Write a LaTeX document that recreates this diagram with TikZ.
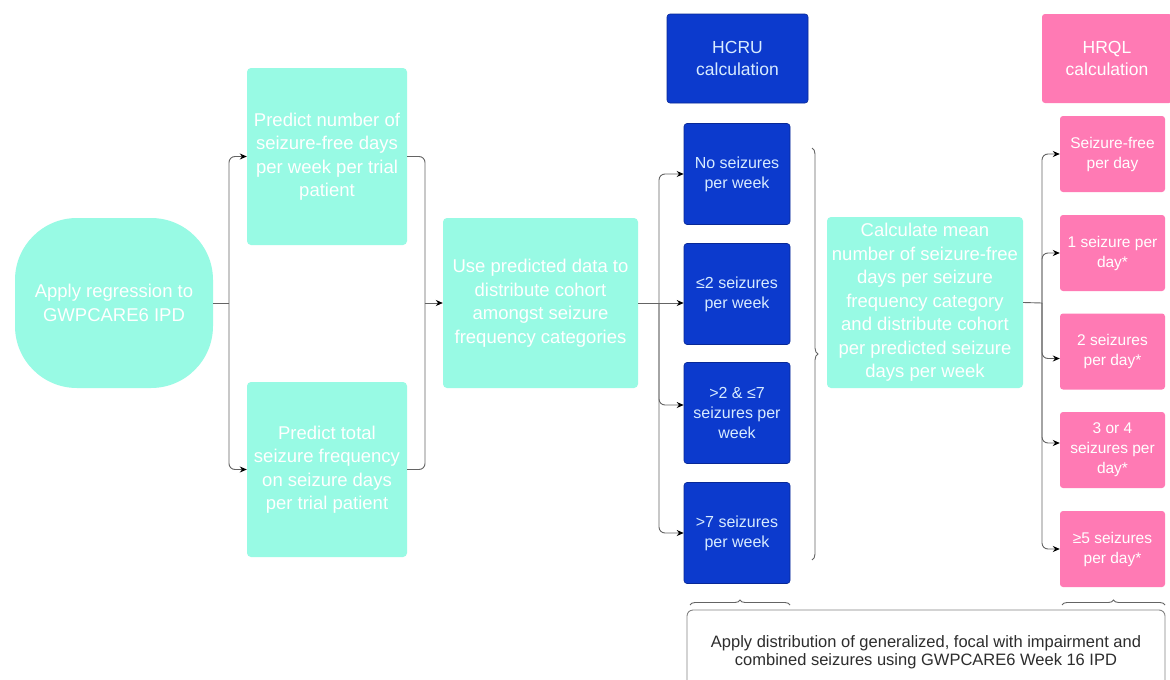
\documentclass[tikz,border=0pt]{standalone}
\usepackage{fontspec}
\setmainfont{Liberation Sans}
\usetikzlibrary{arrows.meta,decorations.pathreplacing,calc}
\definecolor{cyanbox}{RGB}{152,250,228}
\definecolor{bluebox}{RGB}{12,58,205}
\definecolor{blueedge}{RGB}{8,40,150}
\definecolor{pinkbox}{RGB}{255,122,180}
\definecolor{linec}{RGB}{100,100,100}
\definecolor{bluetext}{RGB}{215,235,255}
\definecolor{bottomtext}{RGB}{45,45,45}
\begin{document}
\begin{tikzpicture}[x=1pt,y=-1pt,
  cyanb/.style={fill=cyanbox, rounded corners=4pt, text=white, align=center, inner sep=0pt,
    font=\fontsize{18.5}{23.5}\selectfont},
  bluenode/.style={fill=bluebox, draw=blueedge, line width=0.6pt, rounded corners=3pt, text=bluetext, align=center,
    inner sep=0pt, minimum width=106pt, minimum height=101pt, font=\fontsize{16}{20}\selectfont},
  pinknode/.style={fill=pinkbox, rounded corners=3pt, text=white, align=center, inner sep=0pt,
    minimum width=105pt, minimum height=76pt, font=\fontsize{15.5}{20}\selectfont},
  lineonly/.style={draw=linec, line width=0.9pt},
  conn/.style={draw=linec, line width=0.9pt, -{Stealth[length=7pt,width=6pt,black]}},
  brc/.style={draw=linec, line width=0.9pt, decorate, decoration={brace, amplitude=6pt}}
]
\clip (0,0) rectangle (1170,680);
\fill[white] (0,0) rectangle (1170,680);

% cyan nodes
\node[cyanb, minimum width=198pt, minimum height=170pt, rounded corners=62pt] (ell) at (114,303)
  {Apply regression to\\GWPCARE6 IPD};
\node[cyanb, minimum width=160pt, minimum height=177pt] (A) at (327,156.5)
  {Predict number of\\seizure-free days\\per week per trial\\patient};
\node[cyanb, minimum width=160pt, minimum height=175pt] (B) at (327,469.5)
  {Predict total\\seizure frequency\\on seizure days\\per trial patient};
\node[cyanb, minimum width=195pt, minimum height=170pt] (C) at (540.5,303)
  {Use predicted data to\\distribute cohort\\amongst seizure\\frequency categories};
\node[cyanb, minimum width=196pt, minimum height=171pt] (calc) at (925,302.5)
  {Calculate mean\\number of seizure-free\\days per seizure\\frequency category\\and distribute cohort\\per predicted seizure\\days per week};

% HCRU
\node[bluenode, minimum width=141pt, minimum height=89pt, font=\fontsize{17.5}{22}\selectfont] (hcru) at (737.5,58.5)
  {HCRU\\calculation};
\node[bluenode] (b1) at (737,174) {No seizures\\per week};
\node[bluenode] (b2) at (737,294) {≤2 seizures\\per week};
\node[bluenode] (b3) at (737,413) {>2 \& ≤7\\seizures per\\week};
\node[bluenode] (b4) at (737,533) {>7 seizures\\per week};

% HRQL
\node[pinknode, minimum width=130pt, minimum height=89pt, font=\fontsize{17.5}{22}\selectfont] (hrql) at (1107,58.5)
  {HRQL\\calculation};
\node[pinknode] (p1) at (1112.5,154) {Seizure-free\\per day};
\node[pinknode] (p2) at (1112.5,253) {1 seizure per\\day*};
\node[pinknode] (p3) at (1112.5,351.5) {2 seizures\\per day*};
\node[pinknode] (p4) at (1112.5,450) {3 or 4\\seizures per\\day*};
\node[pinknode] (p5) at (1112.5,549) {≥5 seizures\\per day*};

% bottom box
\draw[draw=linec!80, line width=0.9pt, fill=white, rounded corners=6pt] (687,610) rectangle (1165,700);
\node[text=bottomtext, align=center, font=\fontsize{16.5}{18}\selectfont] (bot) at (926,652)
  {Apply distribution of generalized, focal with impairment and\\combined seizures using GWPCARE6 Week 16 IPD};

% fork 1: ellipse -> A, B
\coordinate (f1) at (229,303);
\draw[lineonly] (ell.east) -- (f1);
\draw[conn, rounded corners=6pt] (f1) |- (A.west);
\draw[conn, rounded corners=6pt] (f1) |- (B.west);

% fork 2: A, B -> C
\coordinate (f2) at (425,303);
\draw[lineonly, rounded corners=6pt] (A.east) -| (f2);
\draw[lineonly, rounded corners=6pt] (B.east) -| (f2);
\draw[conn] (f2) -- (C.west);

% fork 3: C -> blue boxes
\coordinate (f3) at (659,303);
\draw[lineonly] (C.east) -- (f3);
\draw[conn, rounded corners=6pt] (f3) |- (b1.west);
\draw[conn] (f3) -- (b2.west |- f3);
\draw[conn, rounded corners=6pt] (f3) |- ($(b3.west)+(0,-8)$);
\draw[conn, rounded corners=6pt] (f3) |- (b4.west);

% big brace right of blue boxes
\coordinate (bb1) at (812,148);
\coordinate (bb2) at (812,560);
\draw[brc] (bb1) -- (bb2);

% fork 4: calc -> pink boxes
\coordinate (f4) at (1042,303);
\draw[lineonly] (calc.east) -- (f4);
\draw[conn, rounded corners=6pt] (f4) |- (p1.west);
\draw[conn, rounded corners=6pt] (f4) |- (p2.west);
\draw[conn, rounded corners=6pt] (f4) |- ($(p3.west)+(0,7)$);
\draw[conn, rounded corners=6pt] (f4) |- ($(p4.west)+(0,-7)$);
\draw[conn, rounded corners=6pt] (f4) |- (p5.west);

% small braces above bottom box
\coordinate (sb1) at (690,605);
\coordinate (sb2) at (790,605);
\coordinate (sb3) at (1062,605);
\coordinate (sb4) at (1165,605);
\draw[brc, decoration={brace, amplitude=5pt}] (sb1) -- (sb2);
\draw[brc, decoration={brace, amplitude=5pt}] (sb3) -- (sb4);
\end{tikzpicture}
\end{document}
